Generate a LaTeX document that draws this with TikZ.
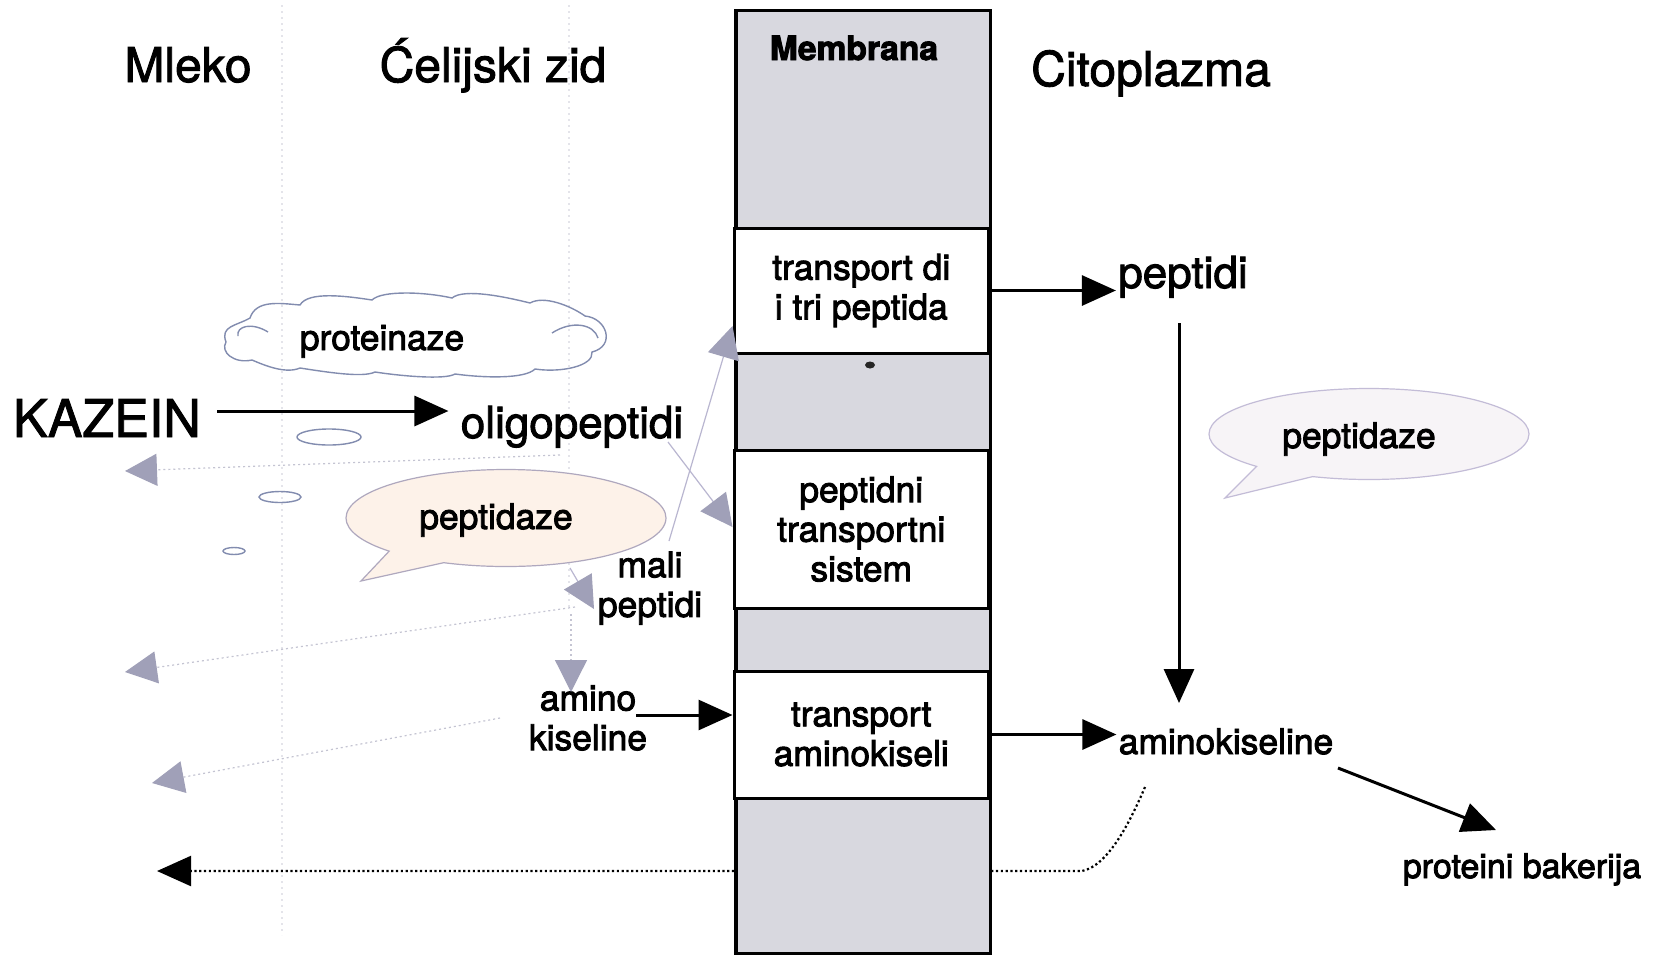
\documentclass[tikz,border=0pt]{standalone}
\usepackage{fontspec}
\setmainfont{TeX Gyre Heros}
\usetikzlibrary{arrows.meta,shapes.callouts,shapes.geometric,calc}
\definecolor{memgray}{RGB}{216,216,223}
\definecolor{gtri}{RGB}{160,160,184}
\definecolor{gline}{RGB}{185,182,208}
\definecolor{gfaint}{RGB}{196,196,210}
\definecolor{cloudc}{RGB}{130,140,175}
\definecolor{bubA}{RGB}{253,242,233}
\definecolor{bubAline}{RGB}{175,168,190}
\definecolor{bubB}{RGB}{247,244,247}
\definecolor{bubBline}{RGB}{195,188,215}
\definecolor{gridc}{RGB}{228,228,234}
\newcommand\heavy{\special{pdf:literal direct 2 Tr 0.45 w}}
\newcommand\fhd{\fontsize{24}{28}\selectfont\heavy}
\newcommand\fmd{\fontsize{22}{26}\selectfont\heavy}
\newcommand\fsm{\fontsize{17.7}{19.8}\selectfont\heavy}
\begin{document}
\begin{tikzpicture}[x=0.5pt,y=-0.5pt,
  barrow/.style={line width=1.5pt,-{Triangle[length=17pt,width=15pt]}},
  garrow/.style={draw=gline,line width=0.6pt,-{Triangle[length=16pt,width=16pt,color=gtri,fill=gtri]}},
  gdots/.style={garrow,draw=gfaint,dash pattern=on 1pt off 1.5pt},
  dotarrow/.style={line width=1.1pt,dash pattern=on 1.1pt off 1.3pt,-{Triangle[length=17pt,width=15pt]}},
  wbox/.style={draw,fill=white,line width=1.5pt,minimum width=127.25pt,inner sep=0pt,align=center,font=\fsm},
  txt/.style={anchor=base,inner sep=1pt},
  bubble/.style={ellipse callout,callout pointer arc=24,line width=0.6pt,inner sep=0pt},
  cloudline/.style={draw=cloudc,line width=0.7pt}
]
\fill[white] (0,0) rectangle (1663,954);
\useasboundingbox (0,0) rectangle (1663,954);

% faint column guides
\draw[gridc,dash pattern=on 1pt off 2pt,line width=0.6pt] (282,5) -- (282,935);
\draw[gridc,dash pattern=on 1pt off 2pt,line width=0.6pt] (569,5) -- (569,610);

% dotted black return arrow (passes under membrane)
\coordinate (dstart) at (1145,787);
\coordinate (dend) at (157,871);
\draw[dotarrow] (dstart) .. controls (1130,822) and (1108,866) .. (1082,871) -- (dend);

% membrane
\node[draw,fill=memgray,line width=1.8pt,minimum width=127.25pt,minimum height=471.75pt,inner sep=0pt,anchor=north west] (memb) at (734,8.5) {};
\node[wbox,minimum height=62.5pt] (tdi) at (861.25,290.5) {transport di\\i tri peptida};
\node[wbox,minimum height=79pt] (pts) at (861.25,529) {peptidni\\transportni\\sistem};
\node[wbox,minimum height=63.5pt] (tak) at (861.25,734.5) {transport\\aminokiseli};
\node[txt,font=\fontsize{16.8}{20}\selectfont\bfseries\heavy] (membt) at (854,60) {Membrana};
\fill[black!85] (870,365) ellipse[x radius=5,y radius=3.5];

% headers
\node[txt,font=\fhd] (mleko) at (188,82) {Mleko};
\node[txt,font=\fhd] (zid) at (493,82) {Ćelijski zid};
\node[txt,font=\fhd] (cito) at (1151,86) {Citoplazma};

% cloud (drawn by hand) and thought bubbles
\draw[cloudline] (226,342)
  .. controls +(-6,-16) and +(-14,8) .. (250,318)
  .. controls +(6,-18) and +(-22,-2) .. (300,305)
  .. controls +(8,-14) and +(-26,-4) .. (372,300)
  .. controls +(10,-10) and +(-26,-6) .. (452,298)
  .. controls +(12,-10) and +(-24,-6) .. (530,303)
  .. controls +(14,-8) and +(-14,-10) .. (585,316)
  .. controls +(22,2) and +(24,-6) .. (592,352)
  .. controls +(2,14) and +(26,4) .. (535,369)
  .. controls +(-10,10) and +(30,4) .. (455,374)
  .. controls +(-10,6) and +(26,4) .. (375,372)
  .. controls +(-12,6) and +(26,4) .. (300,368)
  .. controls +(-14,6) and +(14,6) .. (252,360)
  .. controls +(-18,4) and +(-6,10) .. cycle;
\draw[cloudline] (268,332) .. controls (252,322) and (236,326) .. (238,336);
\draw[cloudline] (552,333) .. controls (572,320) and (594,324) .. (598,338);
\node[txt,font=\fsm] (prot) at (382,350) {proteinaze};
\node[ellipse,draw=cloudc,line width=0.7pt,minimum width=32pt,minimum height=8pt,inner sep=0pt] (e1) at (329,437) {};
\node[ellipse,draw=cloudc,line width=0.7pt,minimum width=21pt,minimum height=5.5pt,inner sep=0pt] (e2) at (280,497) {};
\node[ellipse,draw=cloudc,line width=0.7pt,minimum width=11pt,minimum height=3.5pt,inner sep=0pt] (e3) at (234,551) {};

% speech bubbles
\node[bubble,draw=bubAline,fill=bubA,minimum width=160pt,minimum height=48.5pt,callout absolute pointer={(361,581)}] (bubL) at (506,518) {};
\node[txt,font=\fsm] (pepL) at (496,529) {peptidaze};
\node[bubble,draw=bubBline,fill=bubB,minimum width=160pt,minimum height=45.5pt,callout absolute pointer={(1225,498)}] (bubR) at (1369,434) {};
\node[txt,font=\fsm] (pepR) at (1359,448) {peptidaze};

% main texts
\node[txt,font=\fontsize{26}{30}\selectfont\heavy,inner sep=8pt] (kazein) at (107,437) {KAZEIN};
\node[txt,font=\fmd,inner sep=6pt] (oligo) at (572,438) {oligopeptidi};
\node[align=center,font=\fsm,inner sep=1pt] (mali) at (650,588) {mali\\peptidi};
\node[align=center,font=\fsm,inner sep=1pt] (amino) at (588,718) {amino\\kiseline};
\node[txt,font=\fmd] (pepR2) at (1183,288) {peptidi};
\node[txt,font=\fsm] (aminoR) at (1226,754) {aminokiseline};
\node[txt,font=\fontsize{17}{20}\selectfont\heavy] (bakt) at (1522,878) {proteini bakerija};

% grey transport arrows
\coordinate (g1s) at (668,442);
\coordinate (g2s) at (669,541);
\draw[garrow] (g1s) -- (pts.west |- 0,527);
\draw[garrow] (g2s) -- (tdi.west |- 0,326);
\coordinate (gms) at (570,568);
\coordinate (gmt) at (594,609);
\draw[garrow] (gms) -- (gmt);
\coordinate (gvs) at (571,614);
\coordinate (gvt) at (571,692);
\draw[gdots] (gvs) -- (gvt);
\coordinate (l1s) at (560,455);
\coordinate (l1t) at (125,471);
\draw[gdots] (l1s) -- (l1t);
\coordinate (l2s) at (575,607);
\coordinate (l2t) at (125,672);
\draw[gdots] (l2s) -- (l2t);
\coordinate (l3s) at (500,718);
\coordinate (l3t) at (152,783);
\draw[gdots] (l3s) -- (l3t);

% black arrows
\coordinate (ky) at (0,411);
\draw[barrow] (kazein.east |- ky) -- (oligo.west |- ky);
\draw[barrow] (tdi.east) -- (tdi.east -| pepR2.west);
\coordinate (vt) at (1179,323);
\coordinate (vb) at (1179,703);
\draw[barrow] (vt) -- (vb);
\draw[barrow] (tak.east) -- (tak.east -| aminoR.west);
\coordinate (ak) at (636,715);
\draw[barrow] (ak) -- (ak -| tak.west);
\coordinate (ps) at (1338,768);
\coordinate (pt) at (1496,830);
\draw[barrow] (ps) -- (pt);
\end{tikzpicture}
\end{document}
